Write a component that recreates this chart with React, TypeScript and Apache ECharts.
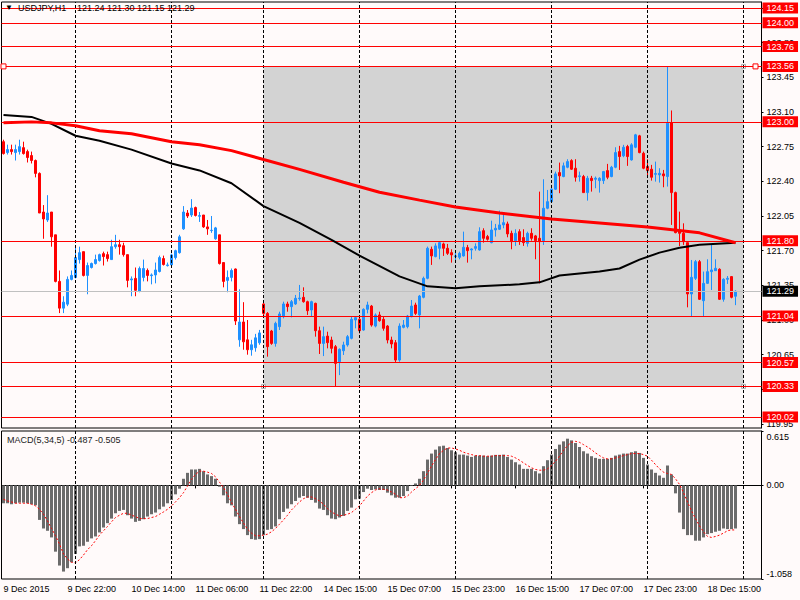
import React, { useEffect, useRef } from "react";
import * as echarts from "echarts";

const FONT = "'Liberation Sans', Arial, sans-serif";

const symbolName = "USDJPY,H1";
const lastQuote = [121.24, 121.3, 121.15, 121.29];
const macdName = "MACD(5,34,5)";
const macdLast = [-0.487, -0.505];

const startTimeUtc = Date.UTC(2015, 11, 9, 6);
const totalSlots = 190;
const labelEvery = 16;

// [open, close, low, high]
const candles: number[][] = [
  [122.80, 122.68, 122.67, 122.82], [122.69, 122.72, 122.67, 122.77], [122.72, 122.70, 122.67, 122.77], [122.69, 122.72, 122.61, 122.77],
  [122.70, 122.75, 122.67, 122.82], [122.74, 122.68, 122.67, 122.80], [122.70, 122.64, 122.59, 122.72], [122.66, 122.61, 122.58, 122.70],
  [122.61, 122.48, 122.44, 122.62], [122.48, 122.08, 122.08, 122.49], [122.09, 122.02, 121.82, 122.16], [122.01, 122.08, 121.99, 122.26],
  [122.09, 121.84, 121.74, 122.09], [121.86, 121.39, 121.38, 121.86], [121.39, 121.12, 121.07, 121.50], [121.12, 121.18, 121.07, 121.24],
  [121.16, 121.41, 121.14, 121.44], [121.41, 121.45, 121.40, 121.50], [121.43, 121.63, 121.42, 121.74], [121.61, 121.68, 121.57, 121.74],
  [121.69, 121.45, 121.44, 121.69], [121.45, 121.55, 121.26, 121.58], [121.53, 121.57, 121.52, 121.58], [121.57, 121.61, 121.56, 121.66],
  [121.60, 121.66, 121.59, 121.67], [121.67, 121.64, 121.55, 121.69], [121.66, 121.62, 121.59, 121.69], [121.61, 121.74, 121.61, 121.81],
  [121.74, 121.76, 121.72, 121.86], [121.76, 121.74, 121.66, 121.81], [121.75, 121.66, 121.64, 121.78], [121.66, 121.40, 121.33, 121.66],
  [121.405, 121.415, 121.24, 121.44], [121.42, 121.30, 121.24, 121.53], [121.29, 121.52, 121.28, 121.54], [121.43, 121.52, 121.39, 121.61],
  [121.50, 121.45, 121.39, 121.52], [121.448, 121.455, 121.36, 121.47], [121.455, 121.505, 121.37, 121.58], [121.49, 121.63, 121.48, 121.65],
  [121.62, 121.56, 121.55, 121.65], [121.549, 121.556, 121.54, 121.58], [121.556, 121.657, 121.55, 121.67], [121.63, 121.70, 121.61, 121.71],
  [121.68, 121.84, 121.67, 121.86], [121.92, 122.09, 121.91, 122.15], [122.08, 122.05, 122.03, 122.11], [122.06, 122.13, 122.04, 122.22],
  [122.135, 122.055, 122.045, 122.145], [122.047, 122.054, 121.99, 122.09], [122.06, 121.94, 121.93, 122.06], [121.94, 121.92, 121.86, 122.01],
  [121.903, 121.906, 121.88, 122.05], [121.82, 121.93, 121.81, 121.94], [121.86, 121.57, 121.56, 121.86], [121.58, 121.39, 121.33, 121.58],
  [121.40, 121.43, 121.28, 121.50], [121.43, 121.50, 121.39, 121.52], [121.515, 120.99, 120.95, 121.52], [120.80, 120.98, 120.73, 121.31],
  [120.98, 120.78, 120.70, 121.18], [120.80, 120.70, 120.65, 121.00], [120.70, 120.75, 120.64, 120.80], [120.72, 120.82, 120.68, 120.86],
  [120.77, 120.87, 120.75, 120.90], [121.162, 121.067, 121.034, 121.185], [121.067, 120.731, 120.630, 121.080], [120.889, 120.764, 120.750, 120.900],
  [120.764, 120.966, 120.731, 120.983], [120.933, 121.061, 120.899, 121.084], [121.034, 121.162, 121.017, 121.185], [121.162, 121.135, 121.084, 121.185],
  [121.135, 121.185, 121.027, 121.202], [121.162, 121.219, 121.152, 121.253], [121.215, 121.222, 121.195, 121.354], [121.229, 121.185, 121.175, 121.330],
  [121.185, 121.094, 121.051, 121.195], [121.101, 121.185, 121.034, 121.195], [121.168, 120.892, 120.832, 121.175], [120.892, 120.764, 120.657, 120.933],
  [120.764, 120.832, 120.636, 120.933], [120.838, 120.771, 120.714, 120.882], [120.798, 120.714, 120.663, 120.832], [120.731, 120.562, 120.330, 120.748],
  [120.579, 120.704, 120.444, 120.714], [120.690, 120.748, 120.647, 120.781], [120.748, 120.832, 120.731, 120.849], [120.815, 121.007, 120.805, 121.034],
  [121.000, 121.024, 120.916, 121.040], [121.007, 120.892, 120.865, 121.034], [120.899, 121.108, 120.892, 121.118], [121.108, 121.152, 121.067, 121.185],
  [121.141, 120.949, 120.933, 121.152], [120.939, 121.051, 120.926, 121.067], [121.051, 120.993, 120.983, 121.084], [121.007, 120.916, 120.892, 121.034],
  [120.939, 120.798, 120.764, 120.949], [120.798, 120.758, 120.714, 120.832], [120.771, 120.596, 120.570, 120.798], [120.596, 120.939, 120.579, 120.966],
  [120.926, 120.949, 120.916, 121.000], [120.933, 121.040, 120.916, 121.051], [121.034, 121.141, 121.027, 121.202], [121.152, 121.067, 121.051, 121.175],
  [121.051, 121.242, 120.916, 121.253], [121.229, 121.421, 121.219, 121.438], [121.421, 121.724, 121.411, 121.741], [121.714, 121.647, 121.556, 121.741],
  [121.640, 121.748, 121.633, 121.774], [121.724, 121.781, 121.613, 121.791], [121.768, 121.724, 121.647, 121.781], [121.724, 121.673, 121.657, 121.768],
  [121.680, 121.657, 121.579, 121.714], [121.640, 121.647, 121.579, 121.680], [121.633, 121.673, 121.613, 121.690], [121.647, 121.734, 121.640, 121.892],
  [121.731, 121.700, 121.579, 121.758], [121.707, 121.717, 121.613, 121.724], [121.724, 121.741, 121.700, 121.774], [121.707, 121.892, 121.700, 121.936],
  [121.902, 121.825, 121.781, 121.926], [121.842, 121.815, 121.801, 121.859], [121.781, 121.909, 121.774, 122.003], [121.909, 121.926, 121.842, 121.970],
  [121.916, 121.960, 121.909, 122.104], [121.960, 121.983, 121.926, 122.077], [121.970, 121.869, 121.835, 121.993], [121.875, 121.791, 121.714, 121.902],
  [121.801, 121.875, 121.748, 121.916], [121.892, 121.801, 121.758, 121.916], [121.832, 121.781, 121.748, 121.916], [121.774, 121.875, 121.741, 121.892],
  [121.875, 121.825, 121.801, 121.926], [121.849, 121.801, 121.613, 121.859], [121.825, 121.791, 121.370, 122.296], [121.801, 122.128, 121.758, 122.421],
  [122.128, 122.195, 122.118, 122.313], [122.195, 122.320, 122.185, 122.364], [122.320, 122.475, 122.313, 122.498], [122.488, 122.455, 122.280, 122.589],
  [122.448, 122.556, 122.441, 122.589], [122.542, 122.599, 122.532, 122.623], [122.609, 122.522, 122.515, 122.623], [122.532, 122.441, 122.397, 122.623],
  [122.448, 122.455, 122.397, 122.498], [122.448, 122.286, 122.286, 122.465], [122.286, 122.431, 122.205, 122.455], [122.431, 122.407, 122.296, 122.455],
  [122.421, 122.431, 122.330, 122.448], [122.407, 122.431, 122.286, 122.441], [122.407, 122.498, 122.374, 122.505], [122.508, 122.441, 122.421, 122.576],
  [122.448, 122.542, 122.441, 122.556], [122.542, 122.690, 122.532, 122.744], [122.700, 122.650, 122.515, 122.758], [122.657, 122.744, 122.643, 122.768],
  [122.751, 122.650, 122.556, 122.768], [122.616, 122.768, 122.609, 122.785], [122.744, 122.869, 122.734, 122.879], [122.859, 122.690, 122.683, 122.869],
  [122.683, 122.532, 122.522, 122.700], [122.549, 122.508, 122.448, 122.623], [122.522, 122.441, 122.407, 122.566], [122.471, 122.478, 122.397, 122.599],
  [122.465, 122.481, 122.387, 122.532], [122.475, 122.455, 122.340, 122.515], [122.448, 122.987, 122.347, 123.560], [122.993, 122.286, 121.960, 123.115],
  [122.286, 121.882, 121.875, 122.296], [121.909, 121.875, 121.747, 122.094], [121.875, 121.791, 121.758, 121.976], [121.781, 121.263, 121.128, 121.781],
  [121.263, 121.431, 121.040, 121.606], [121.421, 121.589, 121.404, 121.606], [121.589, 121.209, 121.202, 121.606], [121.195, 121.370, 121.040, 121.489],
  [121.370, 121.488, 121.364, 121.613], [121.488, 121.505, 121.303, 121.758], [121.498, 121.522, 121.498, 121.613], [121.512, 121.209, 121.202, 121.522],
  [121.209, 121.411, 121.185, 121.421], [121.411, 121.421, 121.364, 121.444], [121.438, 121.229, 121.219, 121.444], [121.24, 121.29, 121.15, 121.30],
];

// moving averages read at bar indices: [barIndex, value]
const maRed: number[][] = [
  [0, 122.99], [7, 123.0], [12, 122.99], [18, 122.96], [24, 122.91], [32, 122.88], [42, 122.8], [49, 122.77],
  [57, 122.71], [65, 122.62], [74, 122.52], [85, 122.39], [94, 122.29], [104, 122.21], [113, 122.14], [124, 122.08],
  [137, 122.02], [149, 121.98], [161, 121.94], [174, 121.88], [183, 121.78],
];
const maBlack: number[][] = [
  [0, 123.07], [7, 123.05], [12, 122.98], [18, 122.86], [24, 122.81], [32, 122.72], [42, 122.58], [49, 122.51],
  [57, 122.38], [65, 122.15], [74, 121.98], [82, 121.81], [89, 121.65], [99, 121.44], [106, 121.34], [113, 121.32],
  [119, 121.34], [129, 121.36], [134, 121.38], [139, 121.45], [149, 121.49], [154, 121.52], [159, 121.61], [164, 121.68],
  [169, 121.73], [174, 121.76], [183, 121.78],
];

const macdHist: number[] = [
  -0.202, -0.202, -0.213, -0.202, -0.195, -0.195, -0.202, -0.213, -0.225, -0.39, -0.487, -0.513, -0.588, -0.749, -0.906, -0.974,
  -0.936, -0.869, -0.775, -0.689, -0.682, -0.637, -0.599, -0.577, -0.532, -0.476, -0.427, -0.375, -0.315, -0.288, -0.277, -0.337,
  -0.375, -0.412, -0.401, -0.382, -0.352, -0.326, -0.307, -0.27, -0.24, -0.202, -0.165, -0.101, -0.037, 0.075, 0.142, 0.18,
  0.18, 0.187, 0.161, 0.124, 0.105, 0.075, -0.015, -0.112, -0.202, -0.225, -0.352, -0.438, -0.494, -0.562, -0.607, -0.614,
  -0.607, -0.562, -0.502, -0.494, -0.464, -0.382, -0.3, -0.262, -0.213, -0.176, -0.139, -0.12, -0.139, -0.165, -0.195, -0.262,
  -0.277, -0.337, -0.375, -0.382, -0.363, -0.345, -0.288, -0.251, -0.157, -0.15, -0.075, -0.037, -0.052, -0.045, -0.052, -0.052,
  -0.082, -0.112, -0.139, -0.139, -0.12, -0.064, -0.007, 0.022, 0.075, 0.161, 0.292, 0.36, 0.404, 0.442, 0.449, 0.423,
  0.397, 0.375, 0.348, 0.348, 0.337, 0.322, 0.337, 0.337, 0.337, 0.33, 0.337, 0.345, 0.345, 0.348, 0.322, 0.292,
  0.262, 0.236, 0.187, 0.187, 0.187, 0.161, 0.135, 0.217, 0.285, 0.348, 0.412, 0.461, 0.498, 0.528, 0.509, 0.479,
  0.434, 0.386, 0.36, 0.33, 0.311, 0.3, 0.3, 0.3, 0.311, 0.337, 0.348, 0.36, 0.36, 0.375, 0.386, 0.367,
  0.311, 0.236, 0.18, 0.142, 0.112, 0.086, 0.225, 0.124, -0.09, -0.307, -0.494, -0.562, -0.562, -0.625, -0.625, -0.588,
  -0.551, -0.539, -0.524, -0.513, -0.487, -0.494, -0.494, -0.487,
];
const macdSignal: number[] = [
  -0.157, -0.176, -0.187, -0.202, -0.202, -0.202, -0.202, -0.213, -0.232, -0.27, -0.326, -0.401, -0.487, -0.569, -0.663, -0.775,
  -0.831, -0.869, -0.876, -0.839, -0.787, -0.727, -0.682, -0.625, -0.562, -0.513, -0.464, -0.412, -0.363, -0.337, -0.315, -0.315,
  -0.337, -0.352, -0.375, -0.375, -0.375, -0.363, -0.352, -0.326, -0.3, -0.27, -0.232, -0.187, -0.139, -0.082, -0.007, 0.067,
  0.124, 0.161, 0.161, 0.15, 0.135, 0.097, 0.037, -0.026, -0.101, -0.195, -0.27, -0.352, -0.427, -0.494, -0.539, -0.569,
  -0.569, -0.562, -0.551, -0.524, -0.487, -0.438, -0.39, -0.337, -0.277, -0.232, -0.187, -0.15, -0.131, -0.131, -0.15, -0.176,
  -0.213, -0.262, -0.3, -0.326, -0.345, -0.337, -0.326, -0.307, -0.27, -0.232, -0.176, -0.12, -0.082, -0.052, -0.037, -0.045,
  -0.052, -0.075, -0.101, -0.139, -0.139, -0.12, -0.075, -0.037, 0.0, 0.06, 0.142, 0.217, 0.292, 0.36, 0.397, 0.423,
  0.423, 0.412, 0.397, 0.375, 0.36, 0.348, 0.337, 0.337, 0.33, 0.33, 0.33, 0.337, 0.337, 0.337, 0.337, 0.33,
  0.311, 0.285, 0.255, 0.225, 0.199, 0.18, 0.172, 0.172, 0.187, 0.225, 0.273, 0.33, 0.397, 0.449, 0.487, 0.498,
  0.487, 0.461, 0.434, 0.404, 0.367, 0.337, 0.311, 0.3, 0.3, 0.311, 0.322, 0.337, 0.348, 0.36, 0.36, 0.36,
  0.348, 0.33, 0.285, 0.236, 0.187, 0.15, 0.135, 0.124, 0.075, 0.011, -0.082, -0.187, -0.288, -0.375, -0.457, -0.524,
  -0.577, -0.588, -0.577, -0.562, -0.539, -0.513, -0.502, -0.505,
];

const levelLines = [124.15, 124.0, 123.76, 123.56, 123.0, 121.8, 121.04, 120.57, 120.33, 120.02];
const selectedLevel = 123.56;
const bidPrice = 121.29;
const priceTicks = [119.95, 120.3, 120.65, 121.0, 121.35, 121.7, 122.05, 122.4, 122.75, 123.1, 123.45, 123.8, 124.15];
const macdTicks = [0.615, 0, -1.058];
const boxPrices = [123.56, 120.33];
const boxTimes = ["14 Dec 00:00", "19 Dec 00:00"];

const MONTHS = ["Jan", "Feb", "Mar", "Apr", "May", "Jun", "Jul", "Aug", "Sep", "Oct", "Nov", "Dec"];

// market hours for real bars; future slots continue hour by hour (as the terminal does)
function buildTimes(): string[] {
  const out: string[] = [];
  let t = startTimeUtc;
  while (out.length < totalSlots) {
    const d = new Date(t);
    const wd = d.getUTCDay();
    const h = d.getUTCHours();
    const closed = wd === 6 || wd === 0 || (wd === 5 && h === 23);
    if (!closed || out.length >= candles.length) {
      out.push(`${d.getUTCDate()} ${MONTHS[d.getUTCMonth()]} ${String(h).padStart(2, "0")}:00`);
    }
    t += 3600000;
  }
  return out;
}

function buildOption() {
  const times = buildTimes();
  const d0 = new Date(startTimeUtc);
  const firstLabel = `${d0.getUTCDate()} ${MONTHS[d0.getUTCMonth()]} ${d0.getUTCFullYear()}`;
  const dayStarts = times.filter((t) => t.endsWith(" 00:00"));
  const txt = { fontFamily: FONT, fontSize: 9, color: "#000" };

  const vGrid = {
    silent: true,
    symbol: "none",
    label: { show: false },
    lineStyle: { color: "#000", width: 1, type: [3, 2] as any },
    data: dayStarts.map((t) => ({ xAxis: t })),
  };

  const levelLabel = (bg: string, v: number) => ({
    show: true,
    position: "end",
    distance: 1,
    formatter: () => v.toFixed(2),
    color: "#fff",
    backgroundColor: bg,
    padding: [1, 4, 0, 4],
    fontFamily: FONT,
    fontSize: 9,
    lineHeight: 10,
  });

  // [fromIndex, topPrice, toIndex, bottomPrice]
  const boxData = [[times.indexOf(boxTimes[0]), boxPrices[0], times.indexOf(boxTimes[1]), boxPrices[1]]];

  return {
    animation: false,
    backgroundColor: "#FFFAFA",
    textStyle: { fontFamily: FONT },
    title: [
      { text: "▼", left: 5, top: 3, padding: 0, textStyle: { ...txt, fontSize: 8, fontWeight: "normal" } },
      { text: symbolName, left: 18, top: 3, padding: 0, textStyle: { ...txt, fontWeight: "normal" } },
      { text: lastQuote.map((v) => v.toFixed(2)).join(" "), left: 77, top: 3, padding: 0, textStyle: { ...txt, fontWeight: "normal" } },
      {
        text: `${macdName} ${macdLast.map((v) => v.toFixed(3)).join(" ")}`,
        left: 7, top: 435, padding: 0, textStyle: { ...txt, color: "#222", fontWeight: "normal" },
      },
    ],
    grid: [
      { left: 1.5, width: 760, top: 2, height: 426, show: true, borderColor: "#000", borderWidth: 1 },
      { left: 1.5, width: 760, top: 431, height: 148, show: true, borderColor: "#000", borderWidth: 1 },
    ],
    xAxis: [
      {
        type: "category", gridIndex: 0, data: times, boundaryGap: true,
        axisLine: { show: false }, axisTick: { show: false }, axisLabel: { show: false }, splitLine: { show: false },
      },
      {
        type: "category", gridIndex: 1, data: times, boundaryGap: true,
        axisLine: { show: true, lineStyle: { color: "#000" } },
        axisTick: { show: true, alignWithLabel: true, length: 3, interval: (i: number) => i % labelEvery === 0, lineStyle: { color: "#000" } },
        axisLabel: {
          ...txt, align: "left", margin: 5,
          interval: (i: number) => i % labelEvery === 0,
          formatter: (v: string, i: number) => (i === 0 ? firstLabel : v),
        },
        splitLine: { show: false },
      },
    ],
    yAxis: [
      {
        type: "value", gridIndex: 0, position: "right", min: 119.91, max: 124.21, scale: true,
        axisLine: { show: true, lineStyle: { color: "#000" } },
        axisTick: { show: true, length: 2, customValues: priceTicks, lineStyle: { color: "#000" } },
        axisLabel: { ...txt, margin: 5, customValues: priceTicks, formatter: (v: number) => v.toFixed(2) },
        splitLine: { show: false },
      },
      {
        type: "value", gridIndex: 1, position: "right", min: -1.058, max: 0.615,
        axisLine: { show: true, lineStyle: { color: "#000" } },
        axisTick: { show: true, length: 2, customValues: macdTicks, lineStyle: { color: "#000" } },
        axisLabel: {
          ...txt, margin: 5, customValues: macdTicks,
          formatter: (v: number) => {
            if (Math.abs(v - macdTicks[0]) < 1e-6) return `{top|${v.toFixed(3)}}`;
            if (Math.abs(v - macdTicks[2]) < 1e-6) return `{bot|${v.toFixed(3)}}`;
            return v.toFixed(2);
          },
          rich: {
            top: { ...txt, padding: [11, 0, 0, 0] },
            bot: { ...txt, padding: [0, 0, 11, 0] },
          },
        },
        splitLine: { show: false },
      },
    ],
    series: [
      {
        name: "box", type: "custom", xAxisIndex: 0, yAxisIndex: 0, z: 1, silent: true,
        data: boxData,
        encode: { x: 0, y: 1 },
        renderItem: (_p: any, api: any) => {
          const a = api.coord([api.value(0), api.value(1)]);
          const b = api.coord([api.value(2), api.value(3)]);
          const handle = (x: number, y: number) => ({
            type: "rect",
            shape: { x: x - 2, y: y - 2, width: 4, height: 4 },
            style: { fill: "#FFFAFA", stroke: "#A9A9A9", lineWidth: 1 },
          });
          return {
            type: "group",
            children: [
              { type: "rect", shape: { x: a[0], y: a[1], width: b[0] - a[0], height: b[1] - a[1] }, style: { fill: "#D3D3D3" } },
              handle(b[0], a[1]),
              handle(a[0], b[1]),
              handle(b[0], b[1]),
            ],
          };
        },
      },
      { name: "vgrid", type: "line", xAxisIndex: 0, yAxisIndex: 0, data: [], z: 2, silent: true, markLine: vGrid },
      {
        name: "levels", type: "line", xAxisIndex: 0, yAxisIndex: 0, data: [], z: 3, silent: true,
        markLine: {
          silent: true,
          symbol: "none",
          data: [
            ...levelLines.map((v) => ({ yAxis: v, lineStyle: { color: "#FF0000", width: 1, type: "solid" }, label: levelLabel("#FF0000", v) })),
            { yAxis: bidPrice, lineStyle: { color: "#C0C0C0", width: 1, type: "solid" }, label: levelLabel("#000000", bidPrice) },
          ],
        },
        markPoint: {
          silent: true,
          symbol: "rect",
          symbolSize: 5,
          label: { show: false },
          itemStyle: { color: "#FFFAFA", borderColor: "#FF0000", borderWidth: 1 },
          data: [
            { coord: [times[0], selectedLevel] },
            { coord: [times[totalSlots - 2], selectedLevel] },
          ],
        },
      },
      {
        name: "price", type: "candlestick", xAxisIndex: 0, yAxisIndex: 0, data: candles, z: 4, barWidth: 2,
        itemStyle: { color: "#1E90FF", color0: "#FF0000", borderColor: "#1E90FF", borderColor0: "#FF0000", borderWidth: 1 },
      },
      {
        name: "maBlack", type: "line", xAxisIndex: 0, yAxisIndex: 0, data: maBlack, z: 5, symbol: "none",
        lineStyle: { color: "#000", width: 2 },
      },
      {
        name: "maRed", type: "line", xAxisIndex: 0, yAxisIndex: 0, data: maRed, z: 6, symbol: "none",
        lineStyle: { color: "#FF0000", width: 3 },
      },
      {
        name: "macd", type: "bar", xAxisIndex: 1, yAxisIndex: 1, data: macdHist, barWidth: 3, z: 3,
        itemStyle: { color: "#6B6B6B" },
        markLine: vGrid,
      },
      {
        name: "signal", type: "line", xAxisIndex: 1, yAxisIndex: 1, data: macdSignal, z: 4, symbol: "none",
        lineStyle: { color: "#FF0000", width: 1, type: [2, 2] as any },
      },
    ],
  };
}

export default function App() {
  const ref = useRef<HTMLDivElement>(null);
  useEffect(() => {
    if (!ref.current) return;
    const chart = echarts.init(ref.current, null, { renderer: "svg" });
    chart.setOption(buildOption() as any);
    return () => chart.dispose();
  }, []);
  return <div ref={ref} style={{ position: "absolute", left: 0, top: 0, width: 800, height: 600 }} />;
}
